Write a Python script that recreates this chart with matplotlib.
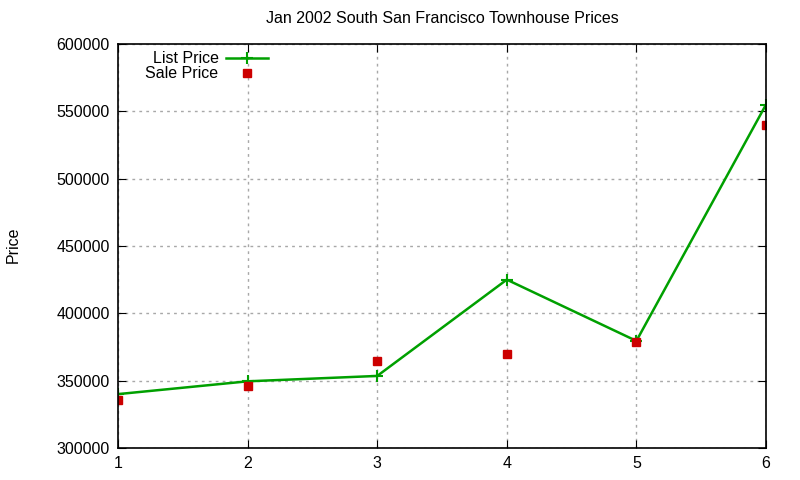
import matplotlib
matplotlib.use("Agg")
import matplotlib.pyplot as plt

# data
house = [1, 2, 3, 4, 5, 6]
list_price = [340000, 349500, 353500, 425000, 379500, 555000]
sale_price = [335500, 346000, 364500, 370000, 378500, 540000]

plt.rcParams['font.family'] = ['Liberation Sans', 'DejaVu Sans']

fig = plt.figure(figsize=(8, 4.8), dpi=100)
ax = fig.add_axes([0.1475, 0.0667, 0.81, 0.8417])

ax.plot(house, list_price, color='#00a000', lw=1.8, marker='+', ms=9, mew=1.5,
        label='List Price')
ax.plot(house, sale_price, ls='none', color='#cc0000', marker='s', ms=6,
        label='Sale Price')

ax.set_xlim(1, 6)
ax.set_ylim(300000, 600000)
ax.set_xticks(house)
ax.set_yticks(range(300000, 600001, 50000))
ax.tick_params(direction='in', length=6, top=True, right=True, labelsize=11.5,
               pad=6)
ax.grid(True, color='#a8a8a8', linestyle=(0, (2, 3)), linewidth=1)
for s in ax.spines.values():
    s.set_linewidth(1.2)

ax.set_title('Jan 2002 South San Francisco Townhouse Prices', fontsize=11.5, pad=15)
# y label sits near the left edge of the figure
fig.text(0.016, 0.49, 'Price', rotation=90, ha='center', va='center', fontsize=11.5)

ax.legend(loc='upper left', bbox_to_anchor=(0.025, 1.01), frameon=False,
          markerfirst=False, fontsize=11.5, handlelength=2.6,
          handletextpad=0.5, borderpad=0.2, labelspacing=0.0)

fig.savefig('out.png', dpi=100)
